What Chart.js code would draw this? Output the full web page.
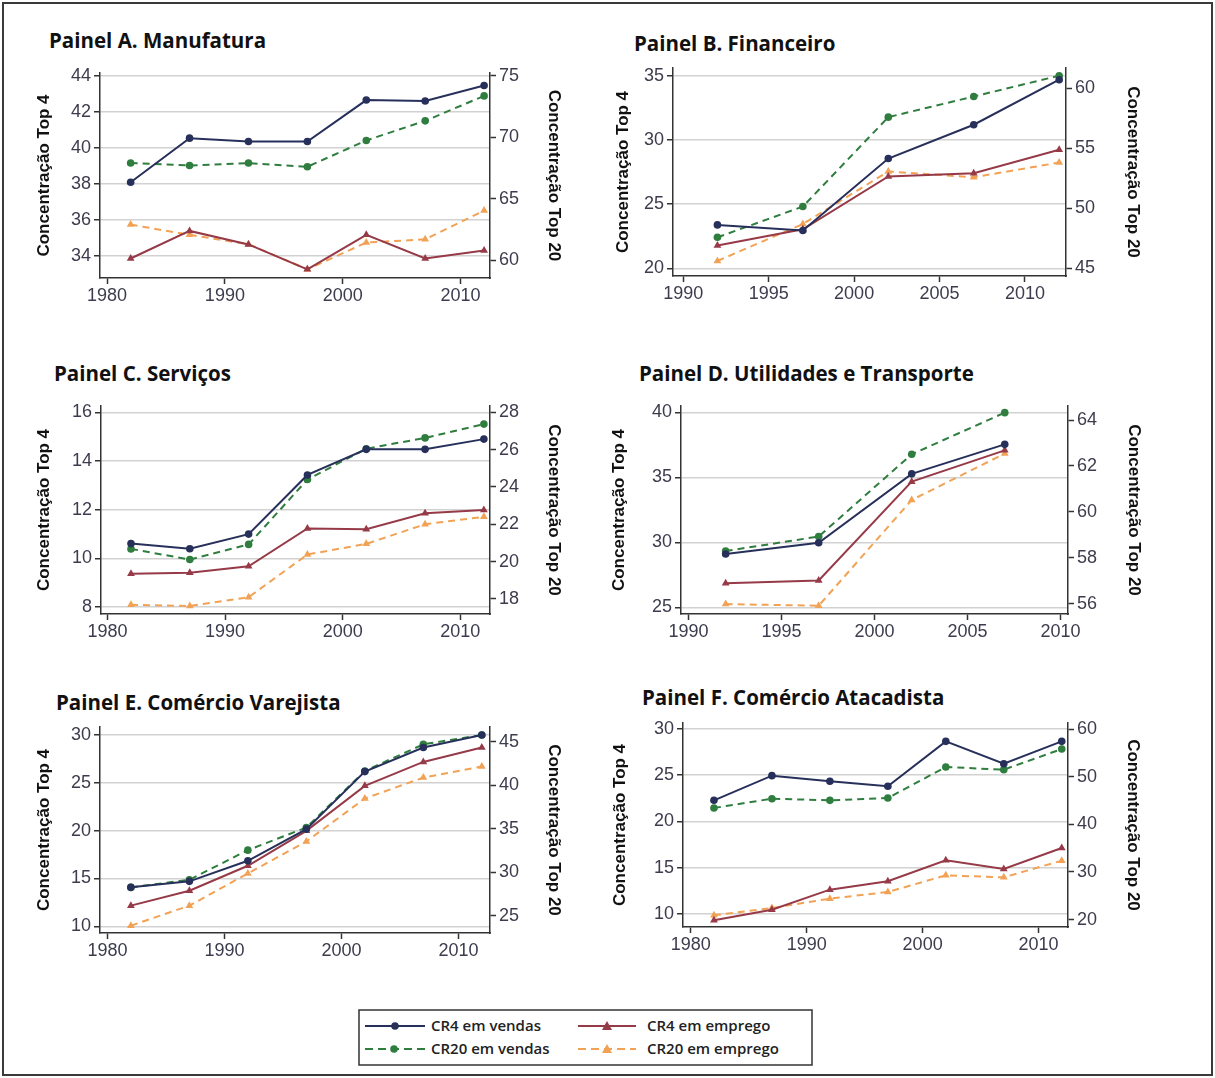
<!DOCTYPE html>
<html>
<head>
<meta charset="utf-8">
<script src="https://cdn.jsdelivr.net/npm/chart.js@4/dist/chart.umd.min.js"></script>
<style>
body { margin: 0; background: #fff; width: 1215px; height: 1078px; position: relative; overflow: hidden; }
#moldura { position: absolute; left: 2px; top: 2px; width: 1207px; height: 1070px; border: 2px solid #3a3a3a; }
.titulo { position: absolute; font: bold 20.5px "Open Sans", sans-serif; color: #111; white-space: nowrap; }
.caixa { position: absolute; }
#legenda { position: absolute; left: 358px; top: 1009px; }
</style>
</head>
<body>
<div id="moldura"></div>
<div class="titulo" style="left:49px;top:26px">Painel A. Manufatura</div>
<div class="titulo" style="left:634px;top:29px">Painel B. Financeiro</div>
<div class="titulo" style="left:54px;top:359px">Painel C. Serviços</div>
<div class="titulo" style="left:639px;top:359px">Painel D. Utilidades e Transporte</div>
<div class="titulo" style="left:56px;top:688px">Painel E. Comércio Varejista</div>
<div class="titulo" style="left:642px;top:683px">Painel F. Comércio Atacadista</div>

<svg id="legenda" width="456" height="58">
  <rect x="1" y="1" width="453" height="55" fill="#fff" stroke="#333" stroke-width="1.5"/>
  <line x1="7" y1="17" x2="67" y2="17" stroke="#27305a" stroke-width="2"/>
  <circle cx="37" cy="17" r="3.8" fill="#27305a"/>
  <text x="73" y="22" font-family="Open Sans" font-weight="600" font-size="15" fill="#222">CR4 em vendas</text>
  <line x1="7" y1="40" x2="67" y2="40" stroke="#2f7d3f" stroke-width="2" stroke-dasharray="8,5"/>
  <circle cx="36" cy="40" r="3.8" fill="#2f7d3f"/>
  <text x="73" y="45" font-family="Open Sans" font-weight="600" font-size="15" fill="#222">CR20 em vendas</text>
  <line x1="220" y1="17" x2="278" y2="17" stroke="#963a48" stroke-width="2"/>
  <polygon points="249,12 254,21 244,21" fill="#963a48"/>
  <text x="289" y="22" font-family="Open Sans" font-weight="600" font-size="15" fill="#222">CR4 em emprego</text>
  <line x1="220" y1="40" x2="278" y2="40" stroke="#f2a255" stroke-width="2" stroke-dasharray="8,5"/>
  <polygon points="249,35 254,44 244,44" fill="#f2a255"/>
  <text x="289" y="45" font-family="Open Sans" font-weight="600" font-size="15" fill="#222">CR20 em emprego</text>
</svg>

<script>
// anos dos censos
const anos82 = [1982, 1987, 1992, 1997, 2002, 2007, 2012];
const anos92 = [1992, 1997, 2002, 2007, 2012];
const anos92a07 = [1992, 1997, 2002, 2007];

// Painel A. Manufatura
const cr4VendasA = [38.1, 40.54, 40.35, 40.35, 42.65, 42.6, 43.46];
const cr20VendasA = [67.9, 67.7, 67.9, 67.6, 69.74, 71.33, 73.36];
const cr4EmpregoA = [33.87, 35.4, 34.65, 33.27, 35.18, 33.87, 34.32];
const cr20EmpregoA = [62.9, 62.07, 61.3, 59.27, 61.44, 61.7, 64.04];

// Painel B. Financeiro
const cr4VendasB = [23.38, 22.94, 28.55, 31.18, 34.69];
const cr20VendasB = [47.58, 50.14, 57.58, 59.3, 61.03];
const cr4EmpregoB = [21.77, 23.04, 27.15, 27.41, 29.23];
const cr20EmpregoB = [45.61, 48.69, 53.06, 52.58, 53.8];

// Painel C. Serviços
const cr4VendasC = [10.61, 10.4, 11.0, 13.43, 14.48, 14.48, 14.9];
const cr20VendasC = [20.68, 20.11, 20.92, 24.4, 26.05, 26.63, 27.37];
const cr4EmpregoC = [9.37, 9.41, 9.68, 11.23, 11.2, 11.86, 11.99];
const cr20EmpregoC = [17.68, 17.62, 18.09, 20.38, 20.95, 22.0, 22.4];

// Painel D. Utilidades e Transporte
const cr4VendasD = [29.11, 29.97, 35.27, 37.54];
const cr20VendasD = [58.3, 58.93, 62.51, 64.32];
const cr4EmpregoD = [26.86, 27.07, 34.67, 37.08];
const cr20EmpregoD = [55.99, 55.92, 60.52, 62.54];

// Painel E. Comércio Varejista
const cr4VendasE = [14.07, 14.7, 16.85, 20.16, 26.17, 28.68, 30.0];
const cr20VendasE = [28.25, 29.13, 32.53, 35.13, 41.63, 44.69, 45.76];
const cr4EmpregoE = [12.16, 13.72, 16.33, 19.98, 24.68, 27.18, 28.68];
const cr20EmpregoE = [23.85, 26.15, 29.86, 33.53, 38.46, 40.87, 42.13];

// Painel F. Comércio Atacadista
const cr4VendasF = [22.27, 24.93, 24.32, 23.78, 28.63, 26.22, 28.63];
const cr20VendasF = [43.43, 45.38, 45.03, 45.52, 52.03, 51.47, 55.8];
const cr4EmpregoF = [9.32, 10.47, 12.63, 13.53, 15.79, 14.86, 17.12];
const cr20EmpregoF = [20.91, 22.45, 24.41, 25.8, 29.3, 28.88, 32.38];

// rótulos dos eixos
const ticksAnos80 = [1980, 1990, 2000, 2010];
const ticksAnos90 = [1990, 1995, 2000, 2005, 2010];
const ticksEsqA = [34, 36, 38, 40, 42, 44];
const ticksDirA = [60, 65, 70, 75];
const ticksEsqB = [20, 25, 30, 35];
const ticksDirB = [45, 50, 55, 60];
const ticksEsqC = [8, 10, 12, 14, 16];
const ticksDirC = [18, 20, 22, 24, 26, 28];
const ticksEsqD = [25, 30, 35, 40];
const ticksDirD = [56, 58, 60, 62, 64];
const ticksEsqE = [10, 15, 20, 25, 30];
const ticksDirE = [25, 30, 35, 40, 45];
const ticksEsqF = [10, 15, 20, 25, 30];
const ticksDirF = [20, 30, 40, 50, 60];

const navy = "#27305a", verde = "#2f7d3f", vinho = "#963a48", laranja = "#f2a255";
const corTexto = "#3c3c4e";
const fonteTicks = { family: "Liberation Sans", size: 18 };
const fonteTitulo = { family: "Liberation Sans", size: 17, weight: "bold" };

function serie(label, anos, valores, eixo, cor, tracejado, marcador) {
    return {
        label: label,
        data: anos.map((a, i) => ({ x: a, y: valores[i] })),
        yAxisID: eixo,
        borderColor: cor,
        backgroundColor: cor,
        borderWidth: 2,
        borderDash: tracejado,
        pointStyle: marcador,
        pointRadius: marcador === "triangle" ? 4.5 : 3.8,
        pointBorderWidth: 0,
        tension: 0,
        clip: false
    };
}

function fixarTicks(lista) {
    return s => { s.ticks = lista.map(v => ({ value: v })); };
}

function painel(p) {
    // caixa: [x0, y0, x1, y1]; area: [esq, topo, dir, base]
    const div = document.createElement("div");
    div.className = "caixa";
    div.style.left = p.caixa[0] + "px";
    div.style.top = p.caixa[1] + "px";
    div.style.width = (p.caixa[2] - p.caixa[0]) + "px";
    div.style.height = (p.caixa[3] - p.caixa[1]) + "px";
    const cv = document.createElement("canvas");
    div.appendChild(cv);
    document.body.appendChild(div);

    const largEsq = p.area[0] - p.caixa[0];
    const largDir = p.caixa[2] - p.area[2];
    const altBase = p.caixa[3] - p.area[3];
    const topo = p.area[1] - p.caixa[1];

    const marcas = { tickColor: "#333", tickLength: 6, tickWidth: 1.5 };
    const borda = { display: true, color: "#333", width: 1.5 };

    new Chart(cv, {
        type: "line",
        data: {
            datasets: [
                serie("CR4 em vendas", p.anos, p.cr4v, "yEsq", navy, [], "circle"),
                serie("CR20 em vendas", p.anos, p.cr20v, "yDir", verde, [7, 5], "circle"),
                serie("CR4 em emprego", p.anos, p.cr4e, "yEsq", vinho, [], "triangle"),
                serie("CR20 em emprego", p.anos, p.cr20e, "yDir", laranja, [7, 5], "triangle")
            ]
        },
        options: {
            responsive: true,
            maintainAspectRatio: false,
            devicePixelRatio: 1,
            animation: false,
            layout: { padding: { top: topo, left: 0, right: 0, bottom: 0 } },
            plugins: { legend: { display: false }, tooltip: { enabled: false } },
            scales: {
                x: {
                    type: "linear",
                    min: p.x[0], max: p.x[1],
                    afterBuildTicks: fixarTicks(p.xTicks),
                    afterFit: s => { s.height = altBase; s.paddingLeft = 0; s.paddingRight = 0; },
                    grid: Object.assign({ drawOnChartArea: false }, marcas),
                    border: borda,
                    ticks: { autoSkip: false, maxRotation: 0, padding: 1, color: corTexto, font: fonteTicks, callback: v => String(v) }
                },
                yEsq: {
                    type: "linear",
                    position: "left",
                    min: p.esq[0], max: p.esq[1],
                    afterBuildTicks: fixarTicks(p.esqTicks),
                    afterFit: s => { s.width = largEsq; s.paddingTop = 0; s.paddingBottom = 0; },
                    grid: Object.assign({ color: "#d2d2d2", lineWidth: 1.5 }, marcas),
                    border: borda,
                    title: { display: true, text: "Concentração Top 4", color: "#111", padding: 0, font: fonteTitulo },
                    ticks: { autoSkip: false, padding: 3, color: corTexto, font: fonteTicks, callback: v => String(v) }
                },
                yDir: {
                    type: "linear",
                    position: "right",
                    min: p.dir[0], max: p.dir[1],
                    afterBuildTicks: fixarTicks(p.dirTicks),
                    afterFit: s => { s.width = largDir; s.paddingTop = 0; s.paddingBottom = 0; },
                    grid: Object.assign({ drawOnChartArea: false }, marcas),
                    border: borda,
                    title: { display: true, text: "Concentração Top 20", color: "#111", padding: 0, font: fonteTitulo },
                    ticks: { autoSkip: false, padding: 3, color: corTexto, font: fonteTicks, callback: v => String(v) }
                }
            }
        }
    });
}

painel({ caixa: [34, 60, 564, 316], area: [100, 73, 490, 278], anos: anos82,
    cr4v: cr4VendasA, cr20v: cr20VendasA, cr4e: cr4EmpregoA, cr20e: cr20EmpregoA,
    x: [1979.4, 2012.5], esq: [32.79, 44.15], dir: [58.56, 75.22],
    xTicks: ticksAnos80, esqTicks: ticksEsqA, dirTicks: ticksDirA });

painel({ caixa: [613, 60, 1143, 316], area: [673, 68, 1066, 276], anos: anos92,
    cr4v: cr4VendasB, cr20v: cr20VendasB, cr4e: cr4EmpregoB, cr20e: cr20EmpregoB,
    x: [1989.4, 2012.4], esq: [19.4, 35.6], dir: [44.36, 61.67],
    xTicks: ticksAnos90, esqTicks: ticksEsqB, dirTicks: ticksDirB });

painel({ caixa: [34, 395, 564, 652], area: [101, 406, 490, 614], anos: anos82,
    cr4v: cr4VendasC, cr20v: cr20VendasC, cr4e: cr4EmpregoC, cr20e: cr20EmpregoC,
    x: [1979.45, 2012.52], esq: [7.72, 16.26], dir: [17.19, 28.34],
    xTicks: ticksAnos80, esqTicks: ticksEsqC, dirTicks: ticksDirC });

painel({ caixa: [609, 395, 1144, 652], area: [681, 406, 1068, 614], anos: anos92a07,
    cr4v: cr4VendasD, cr20v: cr20VendasD, cr4e: cr4EmpregoD, cr20e: cr20EmpregoD,
    x: [1989.6, 2010.4], esq: [24.49, 40.49], dir: [55.56, 64.61],
    xTicks: ticksAnos90, esqTicks: ticksEsqD, dirTicks: ticksDirD });

painel({ caixa: [34, 715, 564, 972], area: [100, 727, 490, 933], anos: anos82,
    cr4v: cr4VendasE, cr20v: cr20VendasE, cr4e: cr4EmpregoE, cr20e: cr20EmpregoE,
    x: [1979.36, 2012.7], esq: [9.3, 30.83], dir: [23.01, 46.68],
    xTicks: ticksAnos80, esqTicks: ticksEsqE, dirTicks: ticksDirE });

painel({ caixa: [610, 710, 1143, 965], area: [683, 723, 1068, 927], anos: anos82,
    cr4v: cr4VendasF, cr20v: cr20VendasF, cr4e: cr4EmpregoF, cr20e: cr20EmpregoF,
    x: [1979.33, 2012.54], esq: [8.6, 30.61], dir: [18.46, 61.26],
    xTicks: ticksAnos80, esqTicks: ticksEsqF, dirTicks: ticksDirF });
</script>
</body>
</html>
